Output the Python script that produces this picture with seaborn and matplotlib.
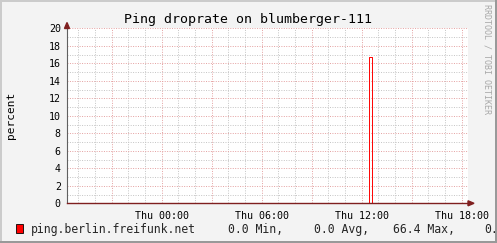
import numpy as np
import pandas as pd
import matplotlib
matplotlib.use("Agg")
import matplotlib.pyplot as plt
from matplotlib.patches import Polygon, Rectangle
import seaborn as sns

# ---- data (hours relative to Thu 00:00) ----
times = [-5.68, 12.455, 12.59, 18.38]
values = [0.0, 16.7, 0.0, 0.0]
tick_hours = [0, 6, 12, 18]
tick_labels = ["Thu 00:00", "Thu 06:00", "Thu 12:00", "Thu 18:00"]
series_name = "ping.berlin.freifunk.net"
stats_text = ["0.0 Min,", "0.0 Avg,", "66.4 Max,", "0."]
title = "Ping droprate on blumberger-111"
ylabel = "percent"
watermark = "RRDTOOL / TOBI OETIKER"

W, H = 497, 243
sns.set_theme(style="white")
plt.rcParams['font.family'] = ['DejaVu Sans Mono']

fig = plt.figure(figsize=(W / 100, H / 100), dpi=100)
fig.patch.set_facecolor("#F3F3F3")

def fx(px):
    return px / W

def fy(py):
    return 1 - py / H

L, R, T, B = 67, 468, 28.3, 203.3
ax = fig.add_axes([fx(L), fy(B), fx(R) - fx(L), fy(T) - fy(B)])
ax.set_facecolor("white")

df = pd.DataFrame({"time": times, "value": values})
sns.lineplot(data=df, x="time", y="value", ax=ax, color="#FF0000",
             linewidth=0.7, drawstyle="steps-post", estimator=None, sort=False,
             zorder=3)

ax.set_xlim(times[0], times[-1])
ax.set_ylim(0, 20)

# grids
minor_x = np.arange(-5, 19, 1)
major_x = np.arange(-3, 19, 3)
for xv in minor_x:
    if xv % 3 != 0:
        ax.axvline(xv, color="#C4C4C4", lw=0.7, ls=(0, (1, 1.5)), zorder=1)
for xv in major_x:
    ax.axvline(xv, color="#E4A0A0", lw=0.7, ls=(0, (1, 1.5)), zorder=1)
for yv in range(1, 21):
    if yv % 2:
        ax.axhline(yv, color="#C4C4C4", lw=0.7, ls=(0, (1, 1.5)), zorder=1)
    else:
        ax.axhline(yv, color="#E4A0A0", lw=0.7, ls=(0, (1, 1.5)), zorder=1)

ax.set_xticks(major_x)
ax.set_xticklabels([tick_labels[tick_hours.index(int(h))] if int(h) in tick_hours else ""
                    for h in major_x])
ax.set_yticks(range(0, 21, 2))
ax.set_yticklabels([str(v) for v in range(0, 21, 2)])
ax.tick_params(axis="both", labelsize=7.2, colors="#000000", length=2.5, width=0.7,
               direction="out", pad=2)
ax.tick_params(axis="x", pad=3, color="#707070")
ax.tick_params(axis="y", color="#707070")
for lab in ax.get_xticklabels() + ax.get_yticklabels():
    lab.set_color("#000000")
ax.set_xlabel("")
ax.set_ylabel("")

for s in ["top", "right"]:
    ax.spines[s].set_visible(False)
ax.spines["left"].set_color("#606060")
ax.spines["left"].set_linewidth(0.8)
ax.spines["bottom"].set_color("#7F1F1F")
ax.spines["bottom"].set_linewidth(1.0)
ax.spines["bottom"].set_zorder(4)

# arrows
ac = "#7F1F1F"
fig.patches.append(Polygon([(fx(468), fy(200.8)), (fx(474), fy(203.3)), (fx(468), fy(205.8))],
                           closed=True, transform=fig.transFigure, color=ac, zorder=5))
fig.patches.append(Polygon([(fx(64.5), fy(28.5)), (fx(67), fy(22.5)), (fx(69.5), fy(28.5))],
                           closed=True, transform=fig.transFigure, color=ac, zorder=5))

# texts
fig.text(fx(248), fy(19.5), title, ha="center", va="center", fontsize=9.5, color="black")
fig.text(fx(11), fy(115.5), ylabel, ha="center", va="center", rotation=90,
         fontsize=8, color="black")
fig.text(fx(486.5), fy(4), watermark, ha="center", va="top", rotation=270,
         fontsize=6, color="#A8A8A8")

# legend
fig.patches.append(Rectangle((fx(15.7), fy(232.7)), fx(7.6), fy(224.3) - fy(232.7),
                             transform=fig.transFigure, facecolor="#FF0000",
                             edgecolor="black", linewidth=0.6, zorder=5))
fig.text(fx(30.7), fy(229), series_name, ha="left", va="center", fontsize=8.3)
for xs, s in zip([228, 314.3, 393.3, 484], stats_text):
    fig.text(fx(xs), fy(229), s, ha="left", va="center", fontsize=8.3)

# border (3D shade)
bw = 2
fig.patches.append(Rectangle((0, fy(bw)), 1, fy(0) - fy(bw), transform=fig.transFigure,
                             facecolor="#CBCBCB", edgecolor="none", zorder=6))
fig.patches.append(Rectangle((0, 0), fx(bw), 1, transform=fig.transFigure,
                             facecolor="#CBCBCB", edgecolor="none", zorder=6))
fig.patches.append(Rectangle((0, 0), 1, fy(H - bw), transform=fig.transFigure,
                             facecolor="#999999", edgecolor="none", zorder=6))
fig.patches.append(Rectangle((fx(W - bw), 0), fx(bw), 1, transform=fig.transFigure,
                             facecolor="#999999", edgecolor="none", zorder=6))

fig.savefig("out.png", dpi=100, facecolor=fig.get_facecolor())
